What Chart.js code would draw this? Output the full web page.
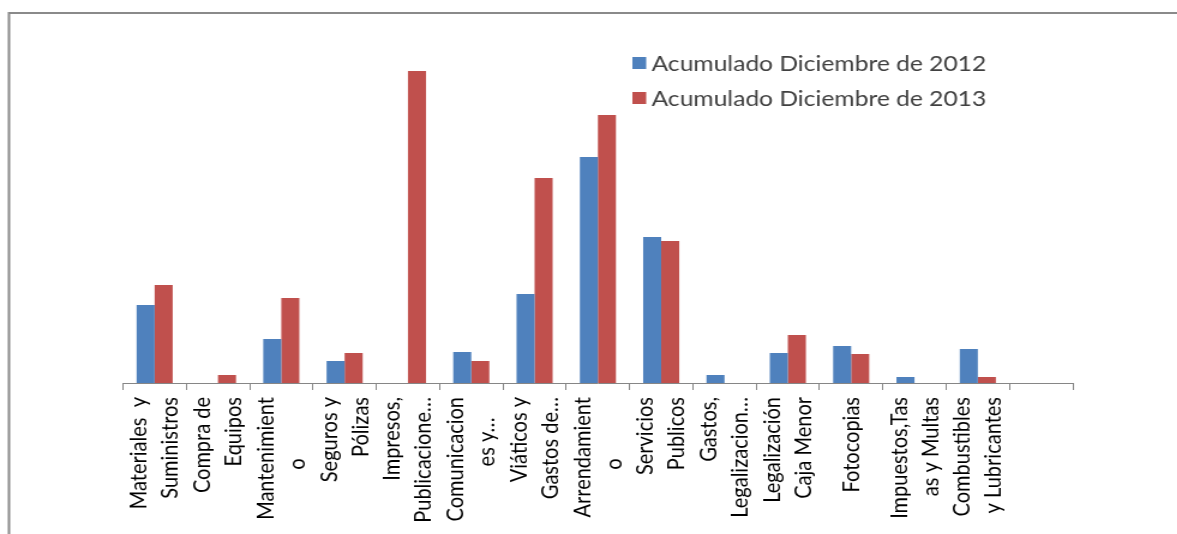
<!DOCTYPE html>
<html>
<head>
<meta charset="utf-8">
<script src="https://cdn.jsdelivr.net/npm/chart.js@4"></script>
<style>
  html, body { margin: 0; padding: 0; background: #fff; overflow: hidden; }
  #wrap { width: 1177px; height: 534px; overflow: hidden; position: relative; }
  #myChart { transform: scaleX(1.2); transform-origin: 0 0; }
</style>
</head>
<body>
<div id="wrap"><canvas id="myChart" width="981" height="534"></canvas></div>
<script>
document.addEventListener("DOMContentLoaded", function() {

let labels = [
    ["Materiales  y", "Suministros"],
    ["Compra de", "Equipos"],
    ["Mantenimient", "o            "],
    ["Seguros y", "Pólizas"],
    ["Impresos,", "Publicacione…"],
    ["Comunicacion", "es y…    "],
    ["Viáticos y", "Gastos de…"],
    ["Arrendamient", "o            "],
    ["Servicios", "Publicos"],
    ["Gastos,", "Legalizacion…"],
    ["Legalización", "Caja Menor"],
    "Fotocopias",
    ["Impuestos,Tas", "as y Multas"],
    ["Combustibles", "y Lubricantes"],
    ""
];

let series2012 = [78, 0, 44, 22, 0, 31, 89, 226, 146, 8, 30, 37, 6, 34, 0];
let series2013 = [98, 8, 85, 30, 312, 22, 205, 268, 142, 0, 48, 29, 0, 6, 0];

let seriesNames = ["Acumulado Diciembre de 2012", "Acumulado Diciembre de 2013"];
let seriesColors = ["#4F81BD", "#C0504D"];

const lineH = 26;

// frame + legend drawn by hand, Excel-style
const decor = {
    id: 'decor',
    beforeDraw(chart) {
        const ctx = chart.ctx;
        ctx.save();
        ctx.strokeStyle = '#8a8a8a';
        ctx.lineWidth = 2;
        ctx.beginPath();
        ctx.moveTo(7.5, 534);
        ctx.lineTo(7.5, 13);
        ctx.lineTo(chart.width, 13);
        ctx.stroke();
        ctx.restore();

        // single-line labels: put them back on the category centre
        const items = chart.scales.x.getLabelItems(chart.chartArea);
        items.forEach(function(it) {
            if (!Array.isArray(it.label)) it.options.translation[0] += lineH / 2;
        });
    },
    afterDraw(chart) {
        const ctx = chart.ctx;
        ctx.save();
        ctx.font = '20.5px Lato';
        ctx.textBaseline = 'middle';
        [63, 98].forEach(function(y, i) {
            ctx.fillStyle = seriesColors[i];
            ctx.fillRect(527, y - 6, 11.5, 12);
            ctx.fillStyle = '#404040';
            ctx.fillText(seriesNames[i], 543, y + 1);
        });
        ctx.restore();
    }
};

const data = {
    labels: labels,
    datasets: [{
        label: seriesNames[0],
        data: series2012,
        backgroundColor: seriesColors[0]
    }, {
        label: seriesNames[1],
        data: series2013,
        backgroundColor: seriesColors[1]
    }]
};

const config = {
    type: 'bar',
    data: data,
    plugins: [decor],
    options: {
        responsive: false,
        animation: false,
        categoryPercentage: 0.57,
        barPercentage: 1.0,
        layout: {
            padding: { top: 40, left: 102.5, right: 87, bottom: 0 }
        },
        plugins: {
            legend: { display: false },
            tooltip: { enabled: false }
        },
        scales: {
            x: {
                afterFit: function(scale) { scale.height = 151; },
                grid: {
                    drawOnChartArea: false,
                    drawTicks: true,
                    tickLength: 7,
                    color: '#868686',
                    lineWidth: 1
                },
                border: { display: true, color: '#868686', width: 1 },
                ticks: {
                    autoSkip: false,
                    minRotation: 90,
                    maxRotation: 90,
                    padding: 7,
                    color: '#000',
                    font: { family: 'Lato', size: 20, lineHeight: lineH / 20 },
                    labelOffset: -lineH / 2
                }
            },
            y: {
                display: false,
                min: 0,
                max: 343
            }
        }
    }
};

const chart = new Chart(
    document.getElementById('myChart'),
    config
);

});
</script>
</body>
</html>
